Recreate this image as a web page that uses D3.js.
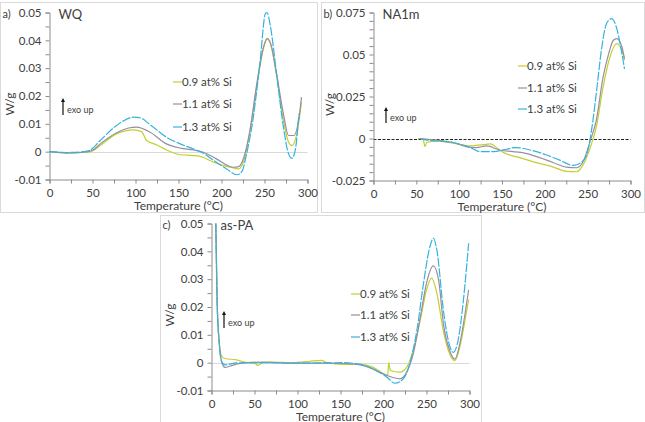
<!DOCTYPE html>
<html>
<head>
<meta charset="utf-8">
<style>
  body { margin: 0; background: #fff; }
  text { font-family: Lato, "Open Sans", sans-serif; fill: #404040; }
</style>
<script src="https://d3js.org/d3.v7.min.js"></script>
</head>
<body>
<script>
// series labels and colours
var seriesNames = ["0.9 at% Si", "1.1 at% Si", "1.3 at% Si"];
var seriesColors = ["#c4cf2e", "#978ea0", "#35b2e0"];

// a) WQ  -- [temperature °C, W/g]
var wq09 = [[0,0],[20,-0.0004],[40,-0.0003],[50,0.0003],[59,0.0022],[78,0.0064],[98,0.0078],[107,0.0072],[113,0.004],[125,0.0024],[136,0.0006],[152,-0.0011],[167,-0.0014],[175,-0.0017],[191,-0.0038],[206,-0.0053],[216,-0.006],[220,-0.0062],[226,-0.0032],[233,0.007],[241,0.0232],[249,0.0376],[253,0.0406],[258,0.0376],[264,0.0274],[272,0.0112],[278,0.0034],[282,0.0022],[288,0.007],[293,0.0178]];
var wq11 = [[0,0],[20,-0.0005],[40,-0.0002],[50,0.0005],[59,0.0028],[78,0.0068],[92,0.0085],[101,0.0088],[117,0.007],[136,0.0028],[152,0.0013],[167,0.0006],[179,-0.0002],[194,-0.0026],[214,-0.0056],[220,-0.0054],[226,-0.002],[233,0.0076],[241,0.0244],[249,0.0376],[253,0.0406],[257,0.039],[264,0.028],[272,0.0136],[278,0.0058],[284,0.0058],[290,0.012],[293,0.0196]];
var wq13 = [[0,0],[20,-0.0003],[40,0],[47,0.0005],[59,0.004],[78,0.0094],[98,0.0124],[105,0.0122],[117,0.0097],[136,0.0052],[152,0.0028],[167,0.001],[179,-0.0006],[191,-0.0032],[206,-0.0062],[218,-0.0083],[224,-0.007],[229,-0.001],[237,0.0124],[245,0.0328],[251,0.0496],[253,0.05],[257,0.0448],[264,0.028],[272,0.0088],[278,-0.0008],[282,-0.0024],[286,0.001],[290,0.0136]];

// b) NA1m
var na09 = [[52,0],[58,-0.0005],[60,-0.0048],[62,-0.0024],[74,-0.0016],[93,-0.0028],[113,-0.0044],[128,-0.0036],[137,-0.0032],[145,-0.006],[152,-0.0084],[171,-0.0114],[190,-0.0144],[210,-0.017],[225,-0.0196],[237,-0.0198],[245,-0.0154],[253,-0.0054],[260,0.0066],[268,0.0305],[276,0.0485],[284,0.0565],[290,0.0525],[293,0.0465]];
var na11 = [[55,0],[74,-0.001],[93,-0.0024],[109,-0.005],[120,-0.0054],[132,-0.0044],[148,-0.007],[163,-0.0078],[179,-0.009],[194,-0.0114],[210,-0.0144],[225,-0.017],[237,-0.0174],[245,-0.0134],[253,-0.0014],[260,0.0106],[268,0.0365],[274,0.0495],[280,0.0585],[284,0.0595],[290,0.0545],[293,0.0475]];
var na13 = [[54,0],[62,-0.001],[74,-0.0014],[93,-0.0024],[113,-0.0054],[124,-0.0078],[140,-0.0078],[155,-0.0064],[165,-0.0054],[171,-0.0056],[187,-0.0074],[202,-0.0098],[218,-0.013],[233,-0.016],[242,-0.0145],[249,-0.0094],[255,0.0066],[260,0.0265],[266,0.0525],[272,0.0684],[278,0.0714],[284,0.0654],[290,0.0505],[293,0.0415]];

// c) as-PA
var pa09 = [[5,0.05],[6.6,0.0215],[9,0.0072],[11.6,0.0025],[15.5,0.0015],[29,0.001],[41,0],[52,-0.0005],[53,-0.001],[60,0],[68,0.0002],[95,0],[114,0.0005],[128,0.0008],[134,0],[153,-0.0006],[173,-0.0006],[188,-0.0017],[200,-0.004],[205,-0.0046],[206,0],[208,-0.0028],[219,-0.0034],[227,-0.0017],[235,0.0049],[243,0.0156],[250,0.0262],[256,0.0304],[262,0.025],[270,0.0108],[277,0.0031],[283,0.0007],[289,0.006],[295,0.0156],[299,0.0227]];
var pa11 = [[5,0.05],[6.6,0.0215],[9,0.0072],[11.6,0.0005],[15.5,-0.0017],[22,-0.0012],[29,-0.0005],[41,0],[60,0.0002],[95,-0.0002],[130,-0.0002],[153,-0.0003],[173,-0.0008],[188,-0.0023],[204,-0.0046],[219,-0.0058],[227,-0.0034],[235,0.0037],[243,0.0167],[250,0.0286],[258,0.0348],[264,0.0298],[270,0.0132],[277,0.0043],[283,0.0013],[289,0.0072],[295,0.0179],[299,0.0262]];
var pa13 = [[5,0.05],[6.6,0.0215],[9,0.0072],[11.6,0.0005],[15.5,-0.0008],[29,-0.0001],[41,0],[60,0],[95,-0.0002],[130,-0.0001],[153,0],[173,-0.0006],[188,-0.0023],[204,-0.0052],[213,-0.0074],[223,-0.0058],[231,0.0001],[239,0.012],[246,0.0274],[254,0.0417],[258,0.0447],[262,0.0405],[270,0.0179],[277,0.006],[281,0.0037],[287,0.0084],[293,0.0227],[299,0.0429]];

// axis domains / tick labels
var xTicksMajor = [0, 50, 100, 150, 200, 250, 300];
var wqYLabels = [-0.01, 0, 0.01, 0.02, 0.03, 0.04, 0.05];
var naYLabels = [-0.025, 0, 0.025, 0.05, 0.075];
var paYLabels = [-0.01, 0, 0.01, 0.02, 0.03, 0.04, 0.05];

var svg = d3.select("body").append("svg")
    .attr("width", 645)
    .attr("height", 422);

var panels = [
  {tag: "a)", title: "WQ", series: [wq09, wq11, wq13], yLabels: wqYLabels,
   box: [0.5, 2.5, 317, 210], x0: 49.5, x1: 307.5, yTop: 12.5, yBot: 179.5, yLabX: 10,
   legX: 173, legY: [82, 104, 127], arrow: [63, 115, 98], zeroDash: false},
  {tag: "b)", title: "NA1m", series: [na09, na11, na13], yLabels: naYLabels,
   box: [321.5, 2.5, 323, 210], x0: 373.5, x1: 630.5, yTop: 12.5, yBot: 180.5, yLabX: 330,
   legX: 518, legY: [66, 88, 109], arrow: [386, 123, 107], zeroDash: true},
  {tag: "c)", title: "as-PA", series: [pa09, pa11, pa13], yLabels: paYLabels,
   box: [160.5, 215.5, 321, 207], x0: 211.5, x1: 469.5, yTop: 223.5, yBot: 390.5, yLabX: 170,
   legX: 351, legY: [294, 315, 337], arrow: [224, 328, 311], zeroDash: false}
];

function fmt(v) { return String(Math.round(v * 1000) / 1000); }

panels.forEach(function(p) {
  var g = svg.append("g");

  g.append("rect")
    .attr("x", p.box[0]).attr("y", p.box[1])
    .attr("width", p.box[2]).attr("height", p.box[3])
    .attr("fill", "none").attr("stroke", "#dadada");

  var yMin = d3.min(p.yLabels), yMax = d3.max(p.yLabels);
  var x = d3.scaleLinear().domain([0, 300]).range([p.x0, p.x1]);
  var y = d3.scaleLinear().domain([yMin, yMax]).range([p.yBot, p.yTop]);

  // zero line
  g.append("line")
    .attr("x1", x(0)).attr("x2", x(300))
    .attr("y1", Math.round(y(0)) + 0.5).attr("y2", Math.round(y(0)) + 0.5)
    .attr("stroke", p.zeroDash ? "#222" : "#d9d9d9")
    .attr("stroke-width", 1)
    .attr("stroke-dasharray", p.zeroDash ? "3,1.5" : null);

  // y axis with minor ticks every 0.005
  var yTicks = d3.range(Math.round(yMin * 1000), Math.round(yMax * 1000) + 1, 5).map(function(d) { return d / 1000; });
  var yAxis = g.append("g")
    .attr("transform", "translate(" + p.x0 + ",0)")
    .call(d3.axisLeft(y).tickValues(yTicks).tickSize(4).tickPadding(4)
      .tickFormat(function(d) {
        return p.yLabels.some(function(l) { return Math.abs(l - d) < 1e-9; }) ? fmt(d) : "";
      }));
  yAxis.select(".domain").attr("stroke", "#8c8c8c");
  yAxis.selectAll(".tick line").attr("stroke", "#8c8c8c");
  yAxis.selectAll(".tick text").style("font-size", "11.5px").attr("fill", "#404040");

  // x axis with ticks every 25
  var xAxis = g.append("g")
    .attr("transform", "translate(0," + p.yBot + ")")
    .call(d3.axisBottom(x).tickValues(d3.range(0, 301, 25)).tickSize(4).tickPadding(5)
      .tickFormat(function(d) { return xTicksMajor.indexOf(d) >= 0 ? d : ""; }));
  xAxis.select(".domain").attr("stroke", "#8c8c8c");
  xAxis.selectAll(".tick line").attr("stroke", "#8c8c8c");
  xAxis.selectAll(".tick text").style("font-size", "11.5px").attr("fill", "#404040");

  g.append("text")
    .attr("x", (p.x0 + p.x1) / 2)
    .attr("y", Math.min(p.yBot + 30, 420.5))
    .attr("text-anchor", "middle")
    .style("font-size", "12px")
    .text("Temperature (°C)");

  g.append("text")
    .attr("transform", "translate(" + p.yLabX + "," + ((p.yTop + p.yBot) / 2 + 8) + ") rotate(-90)")
    .attr("text-anchor", "middle")
    .attr("dy", "0.35em")
    .style("font-size", "12px")
    .text("W/g");

  g.append("text")
    .attr("x", p.box[0] + 2).attr("y", p.yTop + 5)
    .style("font-size", "11px")
    .text(p.tag);

  g.append("text")
    .attr("x", p.x0 + 9).attr("y", p.yTop + 6)
    .style("font-size", "13px")
    .attr("fill", "#333")
    .text(p.title);

  // curves
  var line = d3.line()
    .x(function(d) { return x(d[0]); })
    .y(function(d) { return y(d[1]); })
    .curve(d3.curveMonotoneX);

  p.series.forEach(function(s, i) {
    g.append("path")
      .datum(s)
      .attr("fill", "none")
      .attr("stroke", seriesColors[i])
      .attr("stroke-width", 1.2)
      .attr("stroke-dasharray", i === 2 ? "9,1.5" : null)
      .attr("d", line);
  });

  // legend
  seriesNames.forEach(function(name, i) {
    g.append("line")
      .attr("x1", p.legX).attr("x2", p.legX + 9)
      .attr("y1", p.legY[i]).attr("y2", p.legY[i])
      .attr("stroke", seriesColors[i]).attr("stroke-width", 1.2);
    g.append("text")
      .attr("x", p.legX + 9).attr("y", p.legY[i] + 4)
      .style("font-size", "11.5px")
      .text(name);
  });

  // exo up arrow
  var ax = p.arrow[0];
  g.append("line")
    .attr("x1", ax).attr("x2", ax)
    .attr("y1", p.arrow[1]).attr("y2", p.arrow[2] + 3)
    .attr("stroke", "#111").attr("stroke-width", 1.2);
  g.append("path")
    .attr("d", "M" + (ax - 2) + "," + (p.arrow[2] + 4) + "L" + ax + "," + p.arrow[2] + "L" + (ax + 2) + "," + (p.arrow[2] + 4) + "Z")
    .attr("fill", "#111");
  g.append("text")
    .attr("x", ax + 4).attr("y", p.arrow[1] - 2)
    .style("font-size", "9px")
    .text("exo up");
});
</script>
</body>
</html>
